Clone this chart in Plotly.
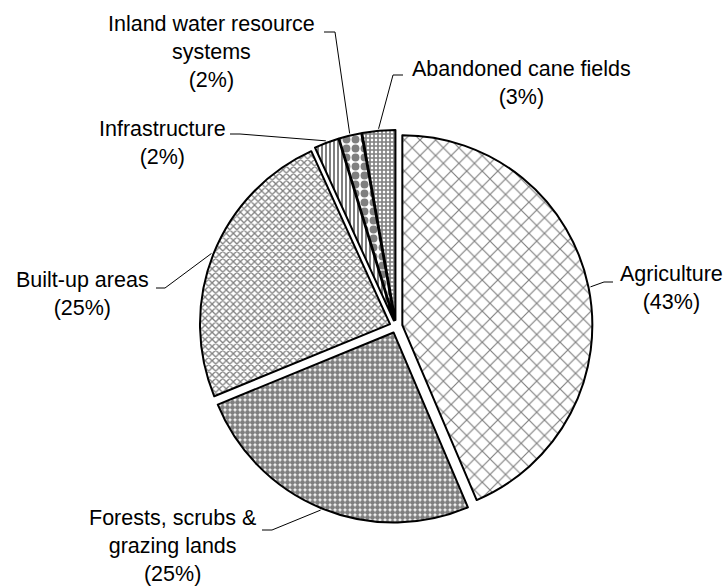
import math
import plotly.graph_objects as go

# ---- data ----
categories = ["Agriculture", "Forests, scrubs &<br>grazing lands", "Built-up areas",
              "Infrastructure", "Inland water resource<br>systems", "Abandoned cane fields"]
values = [43.6, 25.2, 24.4, 2.1, 1.9, 2.8]
pct_labels = ["(43%)", "(25%)", "(25%)", "(2%)", "(2%)", "(3%)"]

# ---- styles ----
pattern_shapes = ["x", ".", "x", "|", ".", "+"]
pattern_sizes = [11, 5, 5, 4, 9, 4]
pattern_solid = [0.2, 0.75, 0.45, 0.5, 0.6, 0.65]

W, H = 727, 587
cx, cy, R = 396.0, 326.5, 190.0
pull = 0.034
box = R * (1 + pull)

fig = go.Figure()
fig.add_trace(go.Pie(
    labels=categories, values=values, sort=False, direction="clockwise", rotation=0,
    textinfo="none", hoverinfo="skip", pull=[pull] * len(values),
    domain=dict(x=[(cx - box) / W, (cx + box) / W], y=[1 - (cy + box) / H, 1 - (cy - box) / H]),
    marker=dict(colors=["white"] * len(values), line=dict(color="black", width=2),
                pattern=dict(shape=pattern_shapes, size=pattern_sizes, solidity=pattern_solid,
                             fgcolor="black", bgcolor="white", fillmode="overlay")),
    showlegend=False,
))

# label layout: (text center x, text center y, start of leader x, y, elbow x)
label_pos = [
    (671, 287.5, 613, 282, 604),
    (172, 546, 262, 530, 272),
    (82, 294, 156, 288, 165),
    (162, 142.5, 230, 134, 240),
    (211, 51.5, 324, 32, 335),
    (521, 83.5, 403, 75, 393),
]


def px(x):
    return x / W


def py(y):
    return 1 - y / H


total = sum(values)
cum = 0.0
shapes = []
annotations = []
for i, v in enumerate(values):
    mid = (cum + v / 2) / total * 2 * math.pi
    cum += v
    rr = R * (1 + pull) + 2
    ax = cx + rr * math.sin(mid)
    ay = cy - rr * math.cos(mid)
    tx, ty, lx, ly, ex = label_pos[i]
    shapes.append(dict(type="path", xref="paper", yref="paper",
                       path=f"M {px(lx)},{py(ly)} L {px(ex)},{py(ly)} L {px(ax)},{py(ay)}",
                       line=dict(color="black", width=1)))
    annotations.append(dict(text=f"{categories[i]}<br>{pct_labels[i]}", x=px(tx), y=py(ty),
                            xref="paper", yref="paper", xanchor="center", yanchor="middle",
                            showarrow=False, align="center",
                            font=dict(family="Arial", size=21.5, color="black")))

fig.update_layout(width=W, height=H, margin=dict(l=0, r=0, t=0, b=0),
                  paper_bgcolor="white", plot_bgcolor="white",
                  shapes=shapes, annotations=annotations)
fig.write_html("out.html", post_script="document.body.style.margin='0px';",
               config={"displayModeBar": False})
